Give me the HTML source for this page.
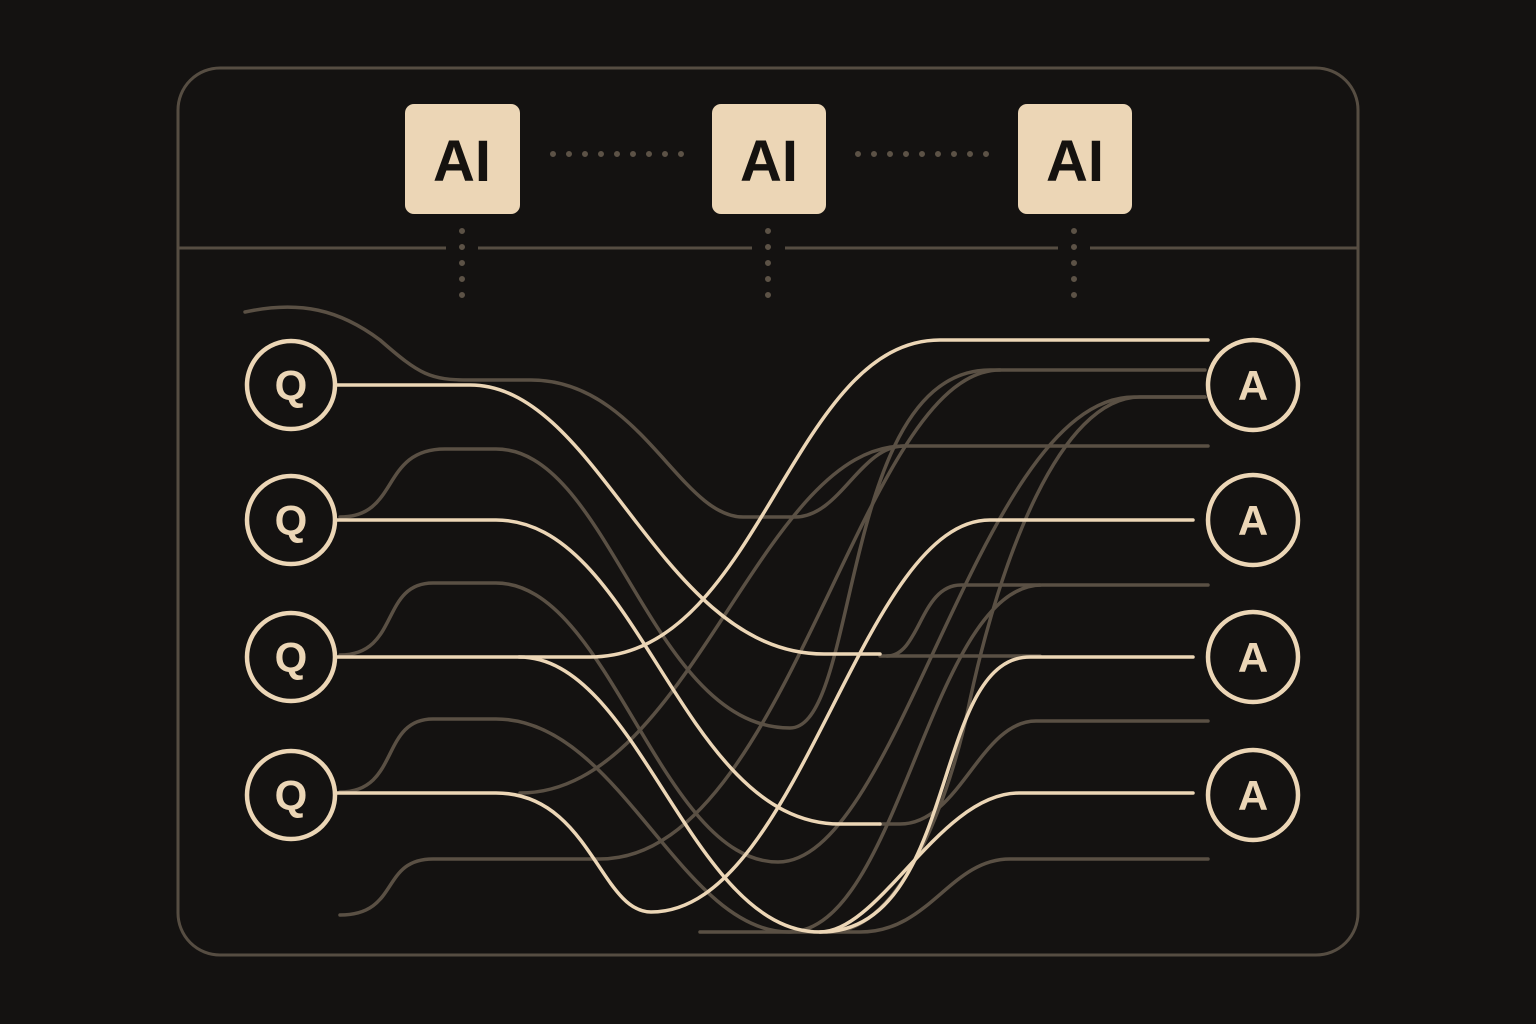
<!DOCTYPE html>
<html><head><meta charset="utf-8"><style>
html,body{margin:0;padding:0;background:#141211;}
svg{display:block}
</style></head><body>
<svg width="1536" height="1024" viewBox="0 0 1536 1024" xmlns="http://www.w3.org/2000/svg">
<rect width="1536" height="1024" fill="#141211"/>
<rect x="178" y="68" width="1180" height="887" rx="42" fill="none" stroke="#564d42" stroke-width="3"/>
<g stroke="#564d42" stroke-width="3" fill="none">
<path d="M178,248 L446,248 M478,248 L752,248 M785,248 L1058,248 M1090,248 L1358,248"/>
</g>
<g stroke="#5c5246" stroke-width="6" stroke-linecap="round" stroke-dasharray="0 16">
<path d="M553,154 L685,154"/><path d="M858,154 L988,154"/>
<path d="M462,231 L462,302"/><path d="M768,231 L768,302"/><path d="M1074,231 L1074,302"/>
</g>
<g fill="#ecd6b6">
<rect x="405" y="104" width="115" height="110" rx="9"/>
<rect x="712" y="104" width="114" height="110" rx="9"/>
<rect x="1018" y="104" width="114" height="110" rx="9"/>
</g>
<g font-family="Liberation Sans, sans-serif" font-weight="bold" font-size="58" fill="#15120f" text-anchor="middle">
<text x="462" y="181">AI</text><text x="769" y="181">AI</text><text x="1075" y="181">AI</text>
</g>
<g stroke="#5a5044" stroke-width="3.5" fill="none" stroke-linecap="round">
<path d="M245,312 C300,300 340,310 380,340 C420,375 430,380 470,380 L531,380 C640,380 680,517 743,517 L795,517 C840,517 860,446 904,446 L1208,446"/>
<path d="M340,517 C400,517 380,449 445,449 L496,449 C610,449 650,728 790,728 C860,728 840,370 990,370 L1205,370"/>
<path d="M340,655 C400,655 380,583 433,583 L496,583 C610,583 660,862 778,862 C900,862 980,397 1134,397 L1205,397"/>
<path d="M340,792 C400,792 380,719 433,719 L496,719 C620,719 680,932 789,932 C900,932 930,585 1042,585 L1208,585"/>
<path d="M340,915 C400,915 380,859 433,859 L600,859 C790,859 860,370 1000,370"/>
<path d="M520,793 C690,793 760,446 904,446"/>
<path d="M1208,859 L1010,859 C950,859 930,932 860,932 L700,932"/>
<path d="M1208,721 L1036,721 C980,721 960,824 900,824 L880,824"/>
<path d="M880,656 L1040,656"/>
<path d="M887,656 C920,656 920,585 961,585 L1040,585"/>
<path d="M1205,397 L1140,397 C1060,397 1000,560 970,700 C950,800 900,932 830,932"/>
</g>
<g stroke="#ecd6b6" stroke-width="3.5" fill="none" stroke-linecap="round">
<path d="M335,385 L470,385 C600,385 660,654 824,654 L880,654"/>
<path d="M335,520 L496,520 C640,520 680,824 840,824 L880,824"/>
<path d="M335,657 L590,657 C760,657 790,340 940,340 L1208,340"/>
<path d="M335,793 L496,793 C590,793 600,912 651,912 C800,912 860,520 990,520 L1193,520"/>
<path d="M519,657 C640,657 690,932 820,932 C960,932 930,657 1030,657 L1193,657"/>
<path d="M820,932 C880,932 940,793 1019,793 L1193,793"/>
</g>
<g fill="none" stroke="#ecd6b6" stroke-width="4.5">
<circle cx="291" cy="385" r="44"/><circle cx="291" cy="520" r="44"/><circle cx="291" cy="657" r="44"/><circle cx="291" cy="795" r="44"/>
<circle cx="1253" cy="385" r="45"/><circle cx="1253" cy="520" r="45"/><circle cx="1253" cy="657" r="45"/><circle cx="1253" cy="795" r="45"/>
</g>
<g font-family="Liberation Sans, sans-serif" font-weight="bold" font-size="42" fill="#ecd6b6" text-anchor="middle">
<text x="291" y="400">Q</text><text x="291" y="535">Q</text><text x="291" y="672">Q</text><text x="291" y="810">Q</text>
<text x="1253" y="400">A</text><text x="1253" y="535">A</text><text x="1253" y="672">A</text><text x="1253" y="810">A</text>
</g>
</svg>
</body></html>
